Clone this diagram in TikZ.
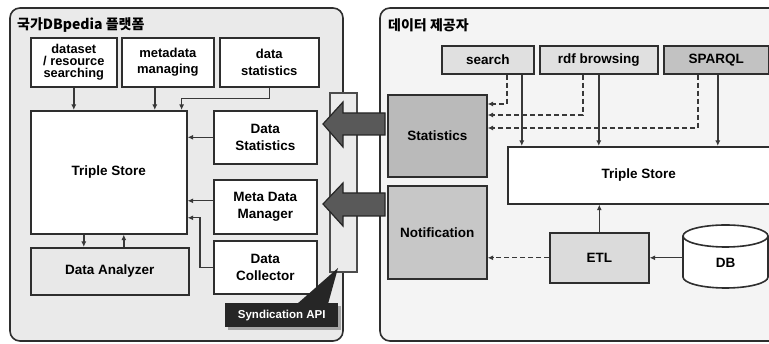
\documentclass[tikz,border=0pt]{standalone}
\usepackage{fontspec}
\setmainfont{Liberation Sans}
\newfontfamily\krfont{Noto Sans CJK KR}
\usetikzlibrary{arrows.meta,calc}
\definecolor{edge}{HTML}{2E2E2E}
\definecolor{leftbg}{HTML}{EAEAEA}
\definecolor{rightbg}{HTML}{F4F4F4}
\begin{document}
\begin{tikzpicture}[x=1pt,y=-1pt,
  box/.style={draw=edge,line width=1.6pt,fill=white,align=center,inner sep=0pt,anchor=north west,
    font=\bfseries\fontsize{13.5}{16.5}\selectfont},
  arr/.style={draw=black!78,line width=1.4pt,-{Latex[length=5.5pt,width=5pt]}},
  darr/.style={arr,dash pattern=on 5pt off 3pt},
  panel/.style={draw=edge,line width=1.6pt,rounded corners=10pt},
  title/.style={anchor=west,inner sep=0pt,font=\krfont\bfseries\fontsize{14}{16}\selectfont},
  fat/.style={draw=black!85,line width=1.2pt,fill=black!65,line join=miter},
]
\useasboundingbox (0,0) rectangle (769,344);
\clip (0,0) rectangle (769,344);
\fill[white] (0,0) rectangle (769,344);

% panels
\draw[panel,fill=leftbg] (10,8) rectangle (343,341);
\draw[panel,fill=rightbg] (380,8) rectangle (800,341);
\node[title] (lt) at (17,25) {국가DBpedia 플랫폼};
\node[title] (rt) at (388,25) {데이터 제공자};

% left panel nodes
\node[box,minimum width=86pt,minimum height=49pt,font=\bfseries\fontsize{12.8}{11.7}\selectfont] (ds) at (30,37) {dataset\\/ resource\\searching};
\node[box,minimum width=92pt,minimum height=49pt,font=\bfseries\fontsize{13}{16.5}\selectfont] (md) at (121,37) {metadata\\managing};
\node[box,minimum width=99pt,minimum height=49pt,font=\bfseries\fontsize{13}{16.5}\selectfont] (dst) at (219,37) {data\\statistics};
\node[box,minimum width=156pt,minimum height=123pt] (lts) at (30,110) {Triple Store};
\node[box,minimum width=103pt,minimum height=53pt] (dstat) at (213,110) {Data\\Statistics};
\node[box,minimum width=103pt,minimum height=54pt] (mdm) at (213,179) {Meta Data\\Manager};
\node[box,minimum width=103pt,minimum height=53pt] (dc) at (213,240) {Data\\Collector};
\node[box,minimum width=158pt,minimum height=47pt,fill=black!9] (da) at (30,247) {Data Analyzer};

% left connectors
\draw[arr] (ds.south) -- (ds.south |- lts.north);
\coordinate (mdo) at ([xshift=-13pt]md.south);
\draw[arr] (mdo) -- (mdo |- lts.north);
\coordinate (lin) at ([xshift=-6pt]lts.north east);
\draw[arr] (dst.south) -- ++(0,11) -| (lin);
\draw[arr] (dstat.west) -- (dstat.west -| lts.east);
\coordinate (mdmo) at ([yshift=6pt]mdm.west);
\draw[arr] (mdmo) -- (mdmo -| lts.east);
\coordinate (lin2) at ([yshift=-45.5pt]lts.east);
\draw[arr] (dc.west) -- ++(-13,0) |- (lin2);
\coordinate (la1) at ([xshift=-25pt]lts.south);
\coordinate (la2) at ([xshift=15pt]lts.south);
\draw[arr] (la1) -- (la1 |- da.north);
\draw[arr] (la2 |- da.north) -- (la2);

% right panel nodes
\node[box,minimum width=92pt,minimum height=28pt,fill=black!12] (se) at (441,45) {search};
\node[box,minimum width=118pt,minimum height=28pt,fill=black!12] (rdf) at (539,45) {rdf browsing};
\node[box,minimum width=105pt,minimum height=28pt,fill=black!24] (sp) at (663,45) {SPARQL};
\node[box,minimum width=99pt,minimum height=82pt,fill=black!27] (stat) at (387,94) {Statistics};
\node[box,minimum width=99pt,minimum height=93pt,fill=black!22] (noti) at (387,185) {Notification};
\node[box,minimum width=262pt,minimum height=57pt] (rts) at (507,146) {Triple Store};
\node[box,minimum width=99pt,minimum height=50pt,fill=black!14] (etl) at (549,232) {ETL};

% DB cylinder
\draw[draw=edge,line width=1.6pt,fill=white]
  (683,236) -- (683,277) arc[start angle=180,end angle=360,x radius=42.5pt,y radius=11pt]
  -- (768,236) arc[start angle=0,end angle=180,x radius=42.5pt,y radius=11pt] -- cycle;
\draw[draw=edge,line width=1.6pt] (683,236) arc[start angle=180,end angle=360,x radius=42.5pt,y radius=11pt];
\node[inner sep=0pt,minimum width=85pt,minimum height=63pt,anchor=north west] (db) at (683,225) {};
\node[inner sep=0pt,font=\bfseries\fontsize{13.5}{16}\selectfont] (dbt) at (725.5,263) {DB};

% right connectors
\coordinate (sed) at ([xshift=19pt]se.south);
\coordinate (ses) at ([xshift=34pt]se.south);
\coordinate (rdd) at ([xshift=-16pt]rdf.south);
\coordinate (spd) at ([xshift=-18.5pt]sp.south);
\coordinate (sps) at ([xshift=1.5pt]sp.south);
\draw[darr] (sed) |- (stat.east |- 0,104);
\draw[darr] (rdd) |- (stat.east |- 0,115);
\draw[darr] (spd) |- (stat.east |- 0,128);
\draw[arr] (ses) -- (ses |- rts.north);
\draw[arr] (rdf.south) -- (rdf.south |- rts.north);
\draw[arr] (sps) -- (sps |- rts.north);
\draw[arr] (etl.north) -- (etl.north |- rts.south);
\draw[arr] (db.west |- etl.east) -- (etl.east);
\draw[darr] (etl.west) -- (etl.west -| noti.east);

% syndication bar
\draw[draw=black!70,line width=1.2pt,fill=black!8] (330,93) rectangle (357,272);

% fat arrows
\draw[fat] (323,124) -- (343,102) -- (343,113) -- (385,113) -- (385,135) -- (343,135) -- (343,147) -- cycle;
\draw[fat] (323,204) -- (343,183) -- (343,193) -- (385,193) -- (385,216) -- (343,216) -- (343,226) -- cycle;

% callout
\fill[black!35] (228,306) rectangle (341,330);
\fill[black!85] (297,304) -- (338,268) -- (328,304) -- cycle;
\node[fill=black!85,text=white,inner sep=0pt,minimum width=113pt,minimum height=24pt,anchor=north west,
  font=\bfseries\fontsize{11.5}{13}\selectfont] (api) at (225,303) {Syndication API};
\end{tikzpicture}
\end{document}
